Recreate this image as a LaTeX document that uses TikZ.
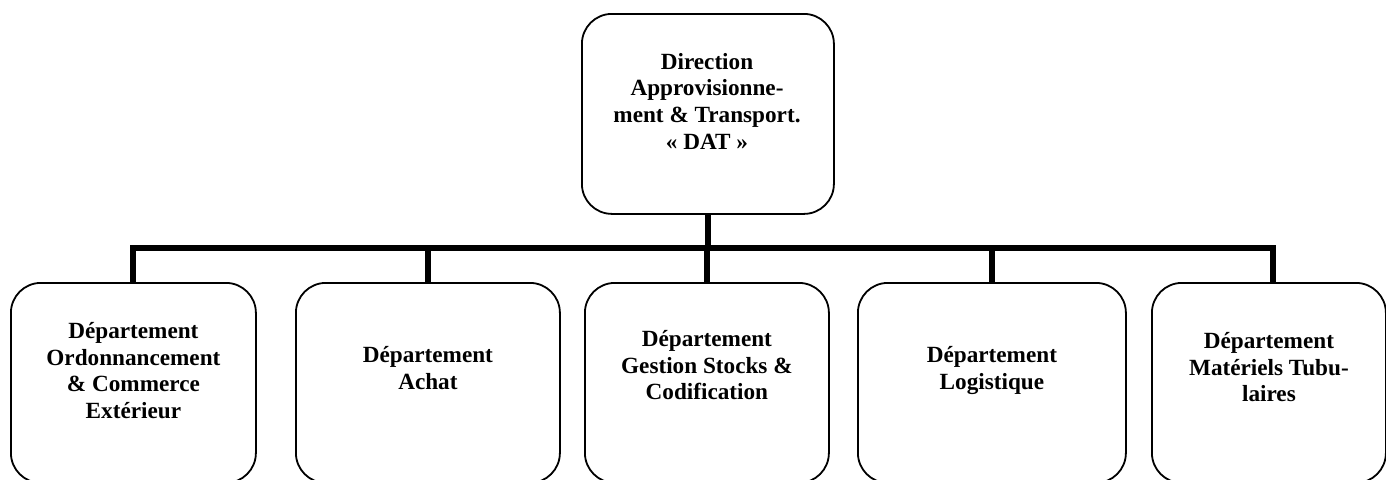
\documentclass[tikz,border=0pt]{standalone}
\usepackage{fontspec}
\setmainfont{Liberation Serif}
\begin{document}
\begin{tikzpicture}[x=1pt,y=-1pt,
  unitbox/.style={draw=black, line width=1.8pt, rounded corners=30pt,
    inner sep=0pt, anchor=north west},
  unitlabel/.style={align=center, inner sep=0pt, anchor=north,
    font=\fontsize{23.2}{26.7}\selectfont\bfseries},
  bus/.style={line width=6pt, black}]
\clip (0,0) rectangle (1386,479);
% head of the direction
\node[unitbox, minimum width=252pt, minimum height=200pt] (dat) at (581,13) {};
\node[unitlabel] (datlabel) at (707,53)
  {Direction\\Approvisionne-\\ment \& Transport.\\« DAT »};
% departments
\node[unitbox, minimum width=245pt, minimum height=200pt] (d1) at (10,282) {};
\node[unitbox, minimum width=264pt, minimum height=200pt] (d2) at (295,282) {};
\node[unitbox, minimum width=244pt, minimum height=200pt] (d3) at (584,282) {};
\node[unitbox, minimum width=268pt, minimum height=200pt] (d4) at (857,282) {};
\node[unitbox, minimum width=234pt, minimum height=200pt] (d5) at (1151,282) {};
\node[unitlabel] (d1label) at (d1.north |- 0,322)
  {Département\\Ordonnancement\\\& Commerce\\Extérieur};
\node[unitlabel] (d2label) at (d2.north |- 0,346) {Département\\Achat};
\node[unitlabel] (d3label) at (d3.north |- 0,330)
  {Département\\Gestion Stocks \&\\Codification};
\node[unitlabel] (d4label) at (d4.north |- 0,346) {Département\\Logistique};
\node[unitlabel] (d5label) at (d5.north |- 0,332)
  {Département\\Matériels Tubu-\\laires};
% connectors
\coordinate (bar) at (707,248);
\coordinate (d5top) at (1273,282);
\draw[bus] (dat.south) -- (dat.south |- bar);
\draw[bus] (d1.north) -- (d1.north |- bar) -- (d5top |- bar) -- (d5top);
\draw[bus] (d2.north |- bar) -- (d2.north);
\draw[bus] (d3.north |- bar) -- (d3.north);
\draw[bus] (d4.north |- bar) -- (d4.north);
\end{tikzpicture}
\end{document}
